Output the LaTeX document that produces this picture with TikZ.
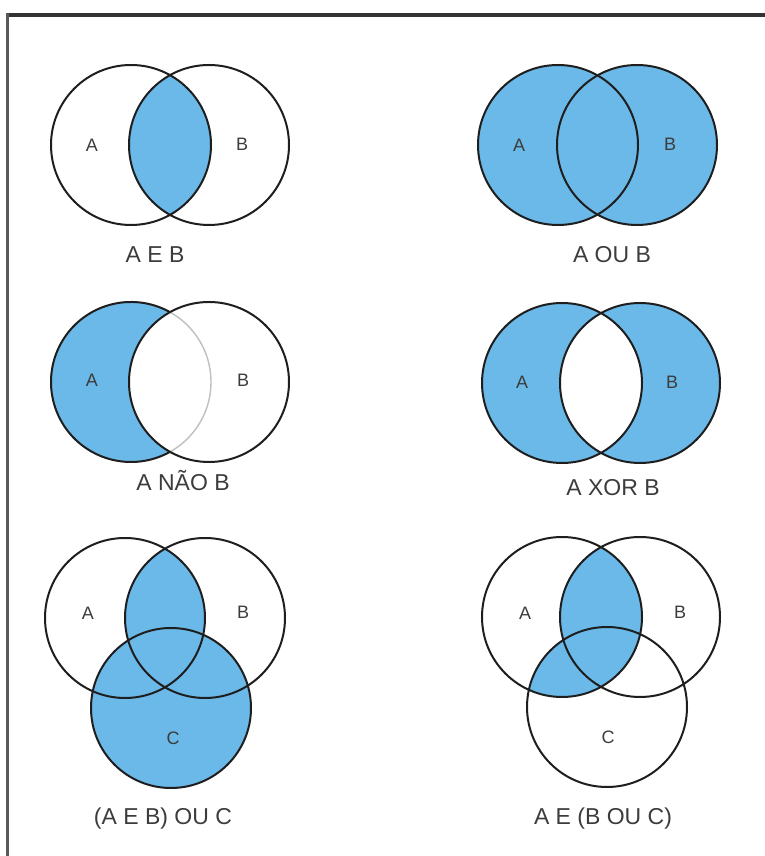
\documentclass[tikz,border=0pt]{standalone}
\usepackage{fontspec}
\setmainfont{Liberation Sans}

\definecolor{azul}{RGB}{107,185,232}
\definecolor{traco}{RGB}{30,30,30}
\definecolor{texto}{RGB}{60,60,60}

\tikzset{
  conj/.style={draw=traco,line width=2pt},
  rotulo/.style={text=texto,inner sep=0pt,font=\fontsize{18}{20}\selectfont},
  legenda/.style={text=texto,inner sep=0pt,anchor=base,font=\fontsize{23}{26}\selectfont},
}

\begin{document}
\begin{tikzpicture}[x=1pt,y=1pt]
  \useasboundingbox (0,0) rectangle (765,856);
  % moldura
  \draw[black!80,line width=4.5pt] (6,841) -- (765,841);
  \draw[black!65,line width=2.5pt] (7.5,843) -- (7.5,0);

  % A E B
  \coordinate (A1) at (131,711); \coordinate (B1) at (209,711);
  \begin{scope}
    \clip (A1) circle (80pt);
    \fill[azul] (B1) circle (80pt);
  \end{scope}
  \draw[conj] (A1) circle (80pt); \draw[conj] (B1) circle (80pt);
  \node[rotulo] (la1) at (92,711) {A};
  \node[rotulo] (lb1) at (242,712) {B};
  \node[legenda] (cap1) at (155,593) {A E B};

  % A OU B
  \coordinate (A2) at (558,711); \coordinate (B2) at (637,711);
  \fill[azul] (A2) circle (80pt); \fill[azul] (B2) circle (80pt);
  \draw[conj] (A2) circle (80pt); \draw[conj] (B2) circle (80pt);
  \node[rotulo] (la2) at (519,711) {A};
  \node[rotulo] (lb2) at (670,712) {B};
  \node[legenda] (cap2) at (612,593) {A OU B};

  % A NAO B
  \coordinate (A3) at (131,474); \coordinate (B3) at (209,474);
  \fill[azul] (A3) circle (80pt);
  \fill[white] (B3) circle (80pt);
  \draw[black!25,line width=1.4pt] (A3) circle (80pt);
  \draw[conj] (A3) ++(60.8:80pt) arc[start angle=60.8,end angle=299.2,radius=80pt];
  \draw[conj] (B3) circle (80pt);
  \node[rotulo] (la3) at (92,476) {A};
  \node[rotulo] (lb3) at (243,476) {B};
  \node[legenda] (cap3) at (183,365) {A NÃO B};

  % A XOR B
  \coordinate (A4) at (562,473); \coordinate (B4) at (640,473);
  \fill[azul] (A4) circle (80pt); \fill[azul] (B4) circle (80pt);
  \begin{scope}
    \clip (A4) circle (80pt);
    \fill[white] (B4) circle (80pt);
  \end{scope}
  \draw[conj] (A4) circle (80pt); \draw[conj] (B4) circle (80pt);
  \node[rotulo] (la4) at (522,474) {A};
  \node[rotulo] (lb4) at (672,474) {B};
  \node[legenda] (cap4) at (613,360) {A XOR B};

  % (A E B) OU C
  \coordinate (A5) at (125,238); \coordinate (B5) at (205,238);
  \coordinate (C5) at (171,148);
  \fill[azul] (C5) circle (80pt);
  \begin{scope}
    \clip (A5) circle (80pt);
    \fill[azul] (B5) circle (80pt);
  \end{scope}
  \draw[conj] (A5) circle (80pt); \draw[conj] (B5) circle (80pt);
  \draw[conj] (C5) circle (80pt);
  \node[rotulo] (la5) at (88,243) {A};
  \node[rotulo] (lb5) at (243,244) {B};
  \node[rotulo] (lc5) at (173,118) {C};
  \node[legenda] (cap5) at (163,31) {(A E B) OU C};

  % A E (B OU C)
  \coordinate (A6) at (562,239); \coordinate (B6) at (640,239);
  \coordinate (C6) at (607,149);
  \begin{scope}
    \clip (A6) circle (80pt);
    \fill[azul] (B6) circle (80pt);
    \fill[azul] (C6) circle (80pt);
  \end{scope}
  \draw[conj] (A6) circle (80pt); \draw[conj] (B6) circle (80pt);
  \draw[conj] (C6) circle (80pt);
  \node[rotulo] (la6) at (525,243) {A};
  \node[rotulo] (lb6) at (680,244) {B};
  \node[rotulo] (lc6) at (608,119) {C};
  \node[legenda] (cap6) at (603,31) {A E (B OU C)};
\end{tikzpicture}
\end{document}
